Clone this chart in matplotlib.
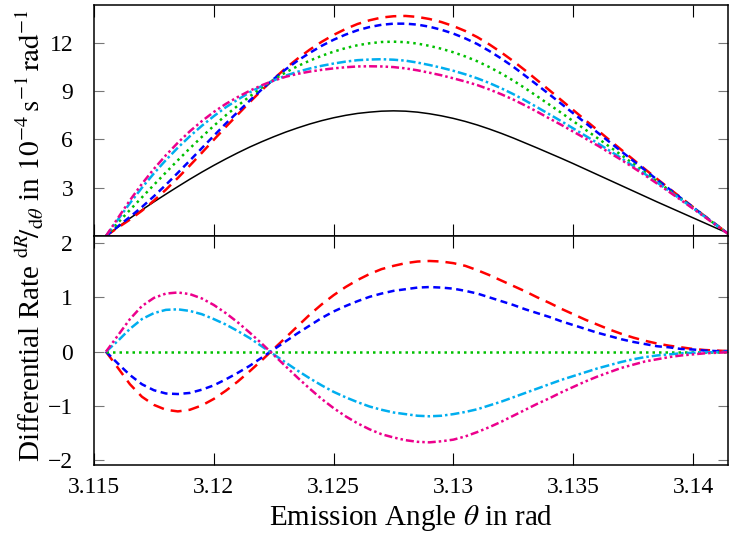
import matplotlib
matplotlib.use('Agg')
import matplotlib.pyplot as plt

plt.rcParams['font.family'] = ['Liberation Serif', 'DejaVu Serif']
plt.rcParams['mathtext.fontset'] = 'stix'

# emission angle grid (rad)
theta = [3.1155, 3.1160, 3.1165, 3.1170, 3.1175, 3.1180, 3.1185, 3.1190, 3.1195, 3.1200,
         3.1205, 3.1210, 3.1215, 3.1220, 3.1225, 3.1230, 3.1235, 3.1240, 3.1245, 3.1250,
         3.1255, 3.1260, 3.1265, 3.1270, 3.1275, 3.1280, 3.1285, 3.1290, 3.1295, 3.1300,
         3.1305, 3.1310, 3.1315, 3.1320, 3.1325, 3.1330, 3.1335, 3.1340, 3.1345, 3.1350,
         3.1355, 3.1360, 3.1365, 3.1370, 3.1375, 3.1380, 3.1385, 3.1390, 3.1395, 3.1400,
         3.1405, 3.1410, 3.1415]

# top panel: differential rates
rate_black = [0, 0.55, 1.1, 1.62, 2.12, 2.6, 3.07, 3.53, 3.97, 4.39,
              4.79, 5.17, 5.53, 5.86, 6.17, 6.46, 6.72, 6.96, 7.17, 7.35,
              7.5, 7.62, 7.7, 7.76, 7.78, 7.76, 7.7, 7.6, 7.47, 7.31,
              7.12, 6.9, 6.65, 6.38, 6.09, 5.78, 5.47, 5.15, 4.83, 4.5,
              4.16, 3.82, 3.48, 3.14, 2.8, 2.46, 2.12, 1.79, 1.46, 1.13,
              0.8, 0.47, 0.15]
rate_red = [0, 0.52, 1.02, 1.57, 2.2, 2.88, 3.61, 4.38, 5.17, 5.98,
            6.78, 7.55, 8.32, 9.06, 9.77, 10.43, 11.03, 11.58, 12.07, 12.5,
            12.87, 13.18, 13.41, 13.58, 13.66, 13.68, 13.62, 13.49, 13.3, 13.05,
            12.74, 12.36, 11.91, 11.41, 10.87, 10.29, 9.68, 9.07, 8.45, 7.83,
            7.21, 6.6, 5.98, 5.37, 4.76, 4.15, 3.55, 2.96, 2.38, 1.8,
            1.23, 0.67, 0.11]
rate_blue = [0, 0.6, 1.19, 1.8, 2.47, 3.18, 3.93, 4.69, 5.46, 6.23,
             6.99, 7.71, 8.42, 9.11, 9.76, 10.36, 10.9, 11.38, 11.82, 12.2,
             12.52, 12.79, 12.99, 13.13, 13.2, 13.2, 13.14, 13.01, 12.82, 12.58,
             12.28, 11.93, 11.5, 11.03, 10.52, 9.96, 9.39, 8.81, 8.22, 7.63,
             7.04, 6.45, 5.86, 5.27, 4.68, 4.09, 3.5, 2.93, 2.35, 1.79,
             1.22, 0.66, 0.11]
rate_green = [0, 0.82, 1.62, 2.4, 3.18, 3.95, 4.71, 5.45, 6.16, 6.85,
              7.5, 8.1, 8.68, 9.22, 9.72, 10.17, 10.56, 10.9, 11.2, 11.46,
              11.68, 11.86, 11.98, 12.06, 12.08, 12.05, 11.96, 11.82, 11.64, 11.42,
              11.16, 10.86, 10.5, 10.1, 9.66, 9.18, 8.68, 8.17, 7.66, 7.14,
              6.62, 6.1, 5.57, 5.04, 4.5, 3.95, 3.4, 2.85, 2.3, 1.75,
              1.2, 0.65, 0.1]
rate_cyan = [0, 1.02, 2.04, 3.0, 3.89, 4.72, 5.49, 6.2, 6.85, 7.45,
             8.0, 8.48, 8.93, 9.32, 9.67, 9.97, 10.21, 10.41, 10.58, 10.72,
             10.84, 10.93, 10.97, 10.99, 10.96, 10.9, 10.78, 10.63, 10.46, 10.27,
             10.05, 9.8, 9.51, 9.18, 8.82, 8.42, 8.0, 7.57, 7.14, 6.69,
             6.24, 5.79, 5.32, 4.85, 4.36, 3.85, 3.33, 2.8, 2.27, 1.73,
             1.19, 0.64, 0.1]
rate_magenta = [0, 1.12, 2.22, 3.24, 4.17, 5.02, 5.8, 6.51, 7.14, 7.71,
                8.21, 8.64, 9.03, 9.37, 9.66, 9.9, 10.08, 10.22, 10.33, 10.42,
                10.49, 10.54, 10.55, 10.54, 10.5, 10.42, 10.3, 10.15, 9.99, 9.8,
                9.6, 9.38, 9.11, 8.81, 8.48, 8.11, 7.72, 7.31, 6.91, 6.49,
                6.07, 5.64, 5.19, 4.74, 4.26, 3.77, 3.26, 2.75, 2.23, 1.7,
                1.17, 0.63, 0.09]

# bottom panel: differences
diff_red = [0, -0.3, -0.6, -0.83, -0.98, -1.07, -1.1, -1.07, -0.99, -0.87,
            -0.72, -0.55, -0.36, -0.16, 0.05, 0.26, 0.47, 0.68, 0.87, 1.04,
            1.19, 1.32, 1.43, 1.52, 1.58, 1.63, 1.66, 1.67, 1.66, 1.63,
            1.58, 1.5, 1.41, 1.31, 1.21, 1.11, 1.0, 0.9, 0.79, 0.69,
            0.59, 0.5, 0.41, 0.33, 0.26, 0.2, 0.15, 0.11, 0.08, 0.05,
            0.03, 0.02, 0.01]
diff_blue = [0, -0.22, -0.43, -0.6, -0.71, -0.77, -0.78, -0.76, -0.7, -0.62,
             -0.51, -0.39, -0.26, -0.11, 0.04, 0.19, 0.34, 0.48, 0.62, 0.74,
             0.84, 0.93, 1.01, 1.07, 1.12, 1.15, 1.18, 1.19, 1.18, 1.16,
             1.12, 1.07, 1.0, 0.93, 0.86, 0.78, 0.71, 0.64, 0.56, 0.49,
             0.42, 0.35, 0.29, 0.23, 0.18, 0.14, 0.1, 0.08, 0.05, 0.04,
             0.02, 0.01, 0.01]
diff_green = [0] * 53
diff_cyan = [0, 0.2, 0.42, 0.6, 0.71, 0.77, 0.78, 0.75, 0.69, 0.6,
             0.5, 0.38, 0.25, 0.1, -0.05, -0.2, -0.35, -0.49, -0.62, -0.74,
             -0.84, -0.93, -1.01, -1.07, -1.12, -1.15, -1.18, -1.19, -1.18, -1.15,
             -1.11, -1.06, -0.99, -0.92, -0.84, -0.76, -0.68, -0.6, -0.52, -0.45,
             -0.38, -0.31, -0.25, -0.19, -0.14, -0.1, -0.07, -0.05, -0.03, -0.02,
             -0.01, -0.01, 0]
diff_magenta = [0, 0.3, 0.6, 0.84, 0.99, 1.07, 1.09, 1.06, 0.98, 0.86,
                0.71, 0.54, 0.35, 0.15, -0.06, -0.27, -0.48, -0.68, -0.87, -1.04,
                -1.19, -1.32, -1.43, -1.52, -1.58, -1.63, -1.66, -1.67, -1.65, -1.62,
                -1.56, -1.48, -1.39, -1.29, -1.18, -1.07, -0.96, -0.86, -0.75, -0.65,
                -0.55, -0.46, -0.38, -0.3, -0.24, -0.18, -0.14, -0.1, -0.07, -0.05,
                -0.03, -0.02, -0.01]

xticks = [3.115, 3.12, 3.125, 3.13, 3.135, 3.14]
xticklabels = ['3.115', '3.12', '3.125', '3.13', '3.135', '3.14']
yticks_top = [3, 6, 9, 12]
yticks_bot = [-2, -1, 0, 1, 2]

styles = {
    'red': dict(color='#ff0000', dashes=(4.4, 2.8)),
    'blue': dict(color='#0000ff', dashes=(2.8, 1.8)),
    'green': dict(color='#00c000', dashes=(1.0, 1.6)),
    'cyan': dict(color='#00aeef', dashes=(3.6, 1.2, 1.0, 1.2)),
    'magenta': dict(color='#ec008c', dashes=(3.2, 1.2, 1.0, 1.2, 1.0, 1.2)),
}

fig = plt.figure(figsize=(7.29, 5.36), dpi=100)
left, width = 94 / 729, 634 / 729
ax1 = fig.add_axes([left, 1 - 236 / 536, width, 231 / 536])
ax2 = fig.add_axes([left, 1 - 465 / 536, width, 229 / 536])

ax1.plot(theta, rate_black, color='black', lw=1.1)
for name, vals in [('red', rate_red), ('blue', rate_blue), ('green', rate_green),
                   ('cyan', rate_cyan), ('magenta', rate_magenta)]:
    ax1.plot(theta, vals, lw=1.8, **styles[name])

for name, vals in [('red', diff_red), ('blue', diff_blue), ('green', diff_green),
                   ('cyan', diff_cyan), ('magenta', diff_magenta)]:
    ax2.plot(theta, vals, lw=1.8, **styles[name])

for ax in (ax1, ax2):
    ax.set_xlim(3.115, 3.14146)
    ax.set_xticks(xticks)
    ax.tick_params(axis='x', direction='in', top=True, bottom=True,
                   length=8.6, width=0.8, color='black', labelsize=17, pad=8.5)
    ax.tick_params(axis='y', direction='in', left=True, right=True,
                   length=7.5, width=0.8, color='#777777', labelsize=17, pad=15)
    for sp in ax.spines.values():
        sp.set_linewidth(1.1)

ax1.set_ylim(0, 14.36)
ax1.set_yticks(yticks_top)
ax1.tick_params(labelbottom=False)

ax2.set_ylim(-2.087, 2.13)
ax2.set_yticks(yticks_bot)
ax2.set_xticklabels(xticklabels)

fig.text(411 / 729, 1 - 525 / 536, r'Emission Angle $\theta$ in rad',
         ha='center', va='baseline', fontsize=21)
fig.text(0.041, 0.56,
         r'Differential Rate $^{\mathrm{d}R}\!/_{\mathrm{d}\theta}$ in $10^{-4}\,\mathrm{s}^{-1}\,\mathrm{rad}^{-1}$',
         rotation=90, ha='center', va='center', fontsize=21)

fig.savefig('out.png', dpi=100)
